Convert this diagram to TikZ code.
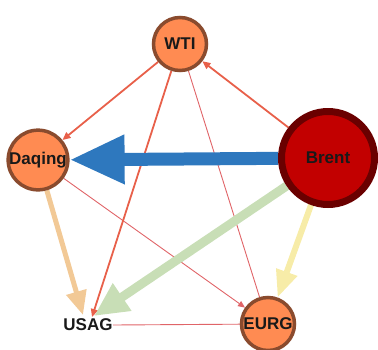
\documentclass[tikz,border=0pt]{standalone}
\usepackage{fontspec}
\setmainfont{Liberation Sans}
\usetikzlibrary{arrows.meta,backgrounds}
\definecolor{nodefill}{HTML}{FF8B52}
\definecolor{nodeline}{HTML}{8A4B2E}
\definecolor{brentfill}{HTML}{C20000}
\definecolor{brentline}{HTML}{6A0000}
\definecolor{eblue}{HTML}{2E78BE}
\definecolor{egreen}{HTML}{C8DEB6}
\definecolor{eyellow}{HTML}{F7ECA8}
\definecolor{eorange}{HTML}{F2C996}
\definecolor{ered}{HTML}{E8604A}
\definecolor{ethin}{HTML}{E06468}
\tikzset{
  lbl/.style={font=\fontsize{17}{17}\selectfont\bfseries, text=black!90},
  small/.style={lbl, circle, fill=nodefill, draw=nodeline, line width=3.5pt, minimum size=53pt, inner sep=0pt},
  big/.style={lbl, circle, fill=brentfill, draw=brentline, line width=7pt, minimum size=93pt, inner sep=0pt},
  redarrow/.style={draw=ered, line width=1.8pt, -{Triangle[length=8pt,width=7pt]}},
  thinarrow/.style={draw=ethin, line width=0.9pt, -{Triangle[length=7pt,width=6pt]}},
  thinline/.style={draw=ethin, line width=0.9pt},
}
\begin{document}
\begin{tikzpicture}[x=1pt,y=-1pt]
\useasboundingbox (0,0) rectangle (378,349);
\node[small] (WTI) at (180,44) {WTI};
\node[small] (Daqing) at (38,160) {Daqing};
\node[big] (Brent) at (328,158) {Brent};
\node[small] (EURG) at (268,324) {EURG};
\node[lbl, inner sep=1pt] (USAG) at (88,325) {USAG};
\coordinate (uo) at (83,315);
\coordinate (ur) at (92,317);
\coordinate (ug) at (94,316);
\coordinate (ue) at (113,325);
\begin{pgfonlayer}{background}
  \draw[thinline] (ue) -- (EURG);
  \draw[thinline] (WTI) -- (EURG);
  \draw[thinarrow] (Daqing) -- (EURG);
  \draw[redarrow] (Brent) -- (WTI);
  \draw[redarrow] (WTI) -- (Daqing);
  \draw[redarrow] (WTI) -- (ur);
  \draw[draw=eorange, line width=5pt, -{Triangle[length=24pt,width=20pt]}] (Daqing) -- (uo);
  \draw[draw=eyellow, line width=6pt, -{Triangle[length=27pt,width=21pt]}] (Brent) -- (EURG);
  \draw[draw=egreen, line width=9pt, -{Triangle[length=34pt,width=31pt]}] (Brent) -- (ug);
  \draw[draw=eblue, line width=13pt, -{Triangle[length=55pt,width=46pt]}] (Brent) -- (Daqing);
\end{pgfonlayer}
\end{tikzpicture}
\end{document}
